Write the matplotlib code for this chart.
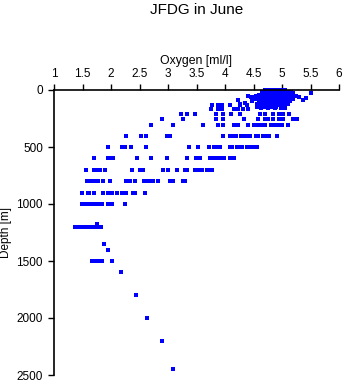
import matplotlib
matplotlib.use('Agg')
import matplotlib.pyplot as plt

plt.rcParams['font.family'] = ['Liberation Sans', 'DejaVu Sans']

title = "JFDG in June"
x_label = "Oxygen [ml/l]"
y_label = "Depth [m]"
x_ticks = [1, 1.5, 2, 2.5, 3, 3.5, 4, 4.5, 5, 5.5, 6]
x_tick_labels = ["1", "1.5", "2", "2.5", "3", "3.5", "4", "4.5", "5", "5.5", "6"]
y_ticks = [0, 500, 1000, 1500, 2000, 2500]

# Shallow dense cluster: depth levels and oxygen values at each
shallow_depths = [3, 20, 30, 40, 50, 60, 70, 80, 90, 100, 110, 120, 130, 145, 160]
shallow_oxygen = [
    [4.70, 4.75, 4.80, 4.85, 4.90, 4.95, 5.00, 5.05, 4.78, 4.88, 4.98],
    [4.65, 4.72, 4.82, 4.92, 5.02, 5.10, 5.15],
    [4.68, 4.76, 4.86, 4.96, 5.06, 5.12, 5.20, 5.51],
    [4.60, 4.70, 4.80, 4.90, 5.00, 5.08, 5.18, 4.85],
    [4.55, 4.66, 4.74, 4.84, 4.94, 5.04, 5.14, 5.24, 4.40],
    [4.50, 4.62, 4.72, 4.82, 4.92, 5.02, 5.10, 5.29, 4.45],
    [4.58, 4.68, 4.78, 4.88, 4.98, 5.08, 5.16, 5.42],
    [4.52, 4.64, 4.74, 4.86, 4.96, 5.06, 5.20],
    [4.23, 4.60, 4.70, 4.80, 4.90, 5.00, 5.12, 5.37],
    [4.48, 4.62, 4.72, 4.84, 4.94, 5.04, 5.14],
    [4.35, 4.66, 4.76, 4.88, 4.98, 5.08],
    [4.26, 4.56, 4.70, 4.80, 4.92, 5.02, 5.10],
    [4.09, 4.62, 4.74, 4.86, 4.96, 5.06],
    [4.56, 4.68, 4.80, 4.90, 5.00],
    [4.64, 4.76, 4.88, 4.98, 5.05],
]

# Deeper sampling levels
deep_depths = [132, 167, 210, 257, 310, 405, 500, 600, 700, 800, 900, 1000,
               1175, 1200, 1350, 1400, 1500, 1600, 1800, 2000, 2200, 2450]
deep_oxygen = [
    [3.78, 3.88, 3.94, 4.09, 4.26, 4.38],
    [3.75, 3.88, 3.94, 4.16, 4.23, 4.32, 4.41],
    [3.22, 3.34, 3.47, 3.85, 3.96, 4.11, 4.26, 4.61, 4.70, 4.85, 4.95, 5.02, 5.13],
    [2.90, 3.27, 3.85, 3.97, 4.34, 4.58, 4.70, 4.76, 4.84, 4.94, 5.02, 5.20, 5.26],
    [2.71, 3.08, 3.62, 3.88, 3.97, 4.15, 4.23, 4.41, 4.50, 4.58, 4.64, 4.70, 4.80,
     4.88, 4.94, 5.00, 5.11],
    [2.26, 2.53, 2.61, 2.98, 3.04, 3.96, 4.08, 4.14, 4.20, 4.28, 4.32, 4.36,
     4.44, 4.54, 4.58, 4.66, 4.70, 4.78, 4.91],
    [1.95, 2.19, 2.25, 2.35, 2.61, 3.36, 3.53, 3.72, 3.81, 3.86, 3.91, 4.09, 4.13, 4.21,
     4.25, 4.29, 4.39, 4.44, 4.50, 4.56],
    [1.71, 1.94, 1.99, 2.04, 2.46, 2.70, 2.99, 3.34, 3.49, 3.57, 3.74, 3.80, 3.88,
     3.92, 3.98, 4.09, 4.16],
    [1.57, 1.70, 1.75, 1.81, 1.89, 2.36, 2.51, 2.56, 2.92, 3.00, 3.16, 3.30, 3.34,
     3.47, 3.53, 3.60, 3.68, 3.72, 3.78],
    [1.58, 1.62, 1.66, 1.71, 1.78, 1.86, 1.98, 2.27, 2.33, 2.42, 2.58, 2.62, 2.68,
     2.74, 2.83, 3.04, 3.09, 3.27, 3.30],
    [1.49, 1.59, 1.62, 1.71, 1.86, 1.95, 2.01, 2.10, 2.19, 2.22, 2.26, 2.38, 2.42, 2.60],
    [1.49, 1.52, 1.55, 1.58, 1.61, 1.64, 1.67, 1.70, 1.73, 1.76, 1.80, 1.84, 1.94, 2.01, 2.25],
    [1.76],
    [1.37, 1.40, 1.43, 1.46, 1.49, 1.52, 1.55, 1.58, 1.61, 1.64, 1.67, 1.70, 1.73, 1.78, 1.82],
    [1.87],
    [1.94],
    [1.66, 1.69, 1.73, 1.76, 1.80, 1.82, 1.85, 2.02],
    [2.18],
    [2.43],
    [2.63],
    [2.90],
    [3.09],
]

fig = plt.figure(figsize=(3.45, 3.84), dpi=100)
ax = fig.add_axes([54 / 345, 1 - 375 / 384, 285 / 345, 285 / 384])

for d, oxs in zip(shallow_depths + deep_depths, shallow_oxygen + deep_oxygen):
    ax.plot(oxs, [d] * len(oxs), 's', color='#0000ff', ms=2.3, mew=0,
            antialiased=False, clip_on=False)

ax.set_xlim(1, 6)
ax.set_ylim(2500, 0)
ax.xaxis.tick_top()
ax.xaxis.set_label_position('top')
ax.set_xticks(x_ticks)
ax.set_xticklabels(x_tick_labels)
ax.set_yticks(y_ticks)
ax.tick_params(axis='both', direction='out', length=4.5, width=1, labelsize=8.5, colors='black')
ax.tick_params(axis='x', pad=2.5)
ax.tick_params(axis='y', pad=3.5)
for s in ['right', 'bottom']:
    ax.spines[s].set_visible(False)
for s in ['top', 'left']:
    ax.spines[s].set_linewidth(1.2)

ax.set_xlabel(x_label, fontsize=8.8, labelpad=3)
ax.set_ylabel(y_label, fontsize=8.5)
ax.yaxis.set_label_coords(-0.147, 0.5)

fig.text(196.5 / 345, 1 - 3 / 384, title, ha='center', va='top', fontsize=11)

fig.savefig('out.png', dpi=100)
